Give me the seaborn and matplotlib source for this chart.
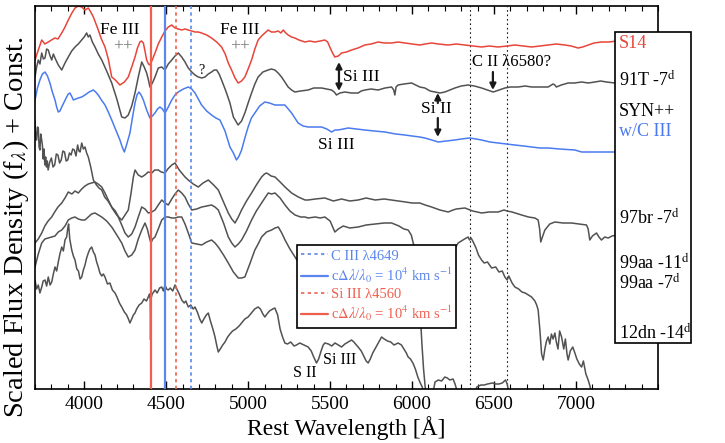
import matplotlib
matplotlib.use("Agg")
import numpy as np
import pandas as pd
import seaborn as sns
import matplotlib.pyplot as plt
from matplotlib.patches import Rectangle

# ---------------- data (rest wavelength [A], scaled flux + const) ----------------
s14_wave = [3700,3720,3741,3760,3781,3800,3822,3840,3863,3880,3903,3925,3944,3965,3985,4005,4025,4040,4056,4070,
            4086,4105,4127,4147,4168,4190,4218,4245,4269,4290,4310,4325,4340,4350,4361,4372,4381,4392,4401,4415,
            4432,4452,4473,4493,4513,4534,4554,4575,4595,4615,4635,4655,4676,4696,4716,4747,4777,4808,4838,4860,
            4879,4899,4920,4939,4960,4980,5000,5021,5041,5061,5082,5102,5122,5142,5163,5183,5200,5214,5230,5244,
            5265,5285,5310,5346,5375,5407,5440,5468,5485,5498,5515,5529,5550,5570,5600,5631,5670,5712,5750,5793,
            5830,5875,5915,5956,6000,6047,6080,6119,6160,6220,6270,6322,6370,6424,6470,6525,6580,6627,6680,6729,
            6780,6830,6880,6932,6970,7013,7040,7074,7110,7155,7200,7250]
s14_flux = [329,339,349,345,347,349,351,350,356,361,369,376,381,383,382,379,381,377,372,366,
            359,350,342,330,312,309,304,307,312,322,332,341,347,348,346,337,329,325,324,329,
            336,345,352,358,362,364,361,360,359,360,359,358,357,357,356,354,351,347,342,335,
            326,319,311,306,308,312,320,329,340,349,353,356,359,357,357,358,356,359,356,354,
            352,351,349,347,348,347,348,349,347,342,336,332,333,336,337,339,341,344,345,347,
            346,346,347,346,345,344,345,346,345,344,345,344,343,342,343,342,343,344,343,342,
            343,344,345,344,343,341,342,344,346,347,347,348]

t91_wave = [3700,3710,3720,3730,3741,3751,3761,3771,3781,3792,3802,3812,3822,3842,3863,3883,3903,3924,3944,3964,
            3985,4000,4015,4025,4035,4050,4066,4086,4107,4137,4168,4199,4229,4249,4269,4290,4310,4330,4351,4366,
            4381,4392,4401,4416,4432,4452,4473,4493,4513,4534,4554,4574,4595,4615,4635,4656,4676,4696,4717,4737,
            4757,4777,4793,4808,4823,4838,4864,4889,4910,4939,4960,4980,5000,5021,5041,5061,5090,5122,5142,5163,
            5183,5204,5224,5244,5265,5285,5320,5366,5400,5448,5480,5509,5525,5539,5560,5590,5630,5671,5690,5712,
            5750,5793,5835,5875,5888,5895,5902,5915,5950,5997,6047,6078,6110,6139,6170,6200,6230,6261,6300,6342,
            6380,6424,6460,6495,6530,6566,6600,6647,6690,6729,6780,6830,6860,6871,6880,6910,6952,6990,7034,7075,
            7115,7150,7186,7237,7250]
t91_flux = [312,322,329,325,336,330,331,340,339,333,329,335,331,324,319,326,332,338,342,345,
            349,352,356,352,354,347,342,335,329,318,306,290,272,271,274,283,296,312,327,322,
            316,309,302,306,312,321,322,319,325,329,333,336,332,327,321,317,314,312,311,312,
            315,317,319,319,315,309,298,286,272,264,268,276,286,296,305,312,317,319,320,319,
            316,312,307,302,299,297,298,299,301,301,300,299,297,294,296,297,296,296,298,299,
            300,299,301,302,299,294,302,304,305,306,302,301,298,297,296,297,299,301,303,304,
            303,301,299,297,299,301,302,302,303,302,302,302,305,304,302,304,306,306,307,306,
            307,308,307,306,306]

syn_wave = [3700,3715,3730,3745,3761,3776,3791,3806,3822,3832,3842,3852,3863,3878,3893,3903,3913,3923,3934,3949,
            3964,3985,4005,4030,4056,4070,4086,4105,4127,4147,4168,4193,4218,4232,4245,4260,4279,4295,4310,4322,
            4334,4347,4361,4381,4401,4416,4432,4447,4462,4477,4493,4513,4534,4554,4574,4605,4635,4656,4676,4696,
            4716,4747,4777,4803,4828,4859,4889,4910,4929,4945,4960,4980,5000,5020,5041,5070,5102,5130,5163,5190,
            5224,5245,5265,5285,5305,5335,5366,5410,5448,5480,5509,5530,5549,5580,5610,5660,5712,5770,5834,5900,
            5956,6000,6047,6078,6120,6159,6210,6261,6300,6352,6390,6424,6475,6525,6575,6627,6680,6729,6780,6830,
            6900,6993,7034,7080,7135,7190,7250]
syn_flux = [289,301,309,315,317,313,306,297,289,282,277,278,282,287,292,295,296,293,289,290,
            291,292,294,297,299,297,294,289,284,277,269,259,249,242,237,245,256,272,286,294,
            297,294,289,279,271,273,276,280,282,280,276,282,289,294,297,300,302,300,296,290,
            284,278,274,271,269,258,242,236,229,233,239,251,262,271,276,283,287,286,284,284,
            284,280,276,271,266,263,262,262,262,260,257,259,259,260,261,260,259,258,257,255,
            254,253,252,251,249,247,248,249,250,251,250,249,247,246,245,244,243,242,241,241,
            240,239,237,237,237,237,237]

br97_wave = [3700,3705,3710,3715,3720,3725,3730,3735,3740,3745,3750,3755,3760,3765,3770,3775,3780,3790,3800,3810,
             3820,3830,3840,3850,3860,3870,3880,3890,3900,3910,3920,3930,3940,3950,3960,3968,3975,3985,3995,4005,
             4015,4025,4040,4056,4075,4090,4107,4125,4145,4168,4190,4210,4229,4249,4269,4285,4300,4310,4330,4351,
             4370,4390,4412,4430,4452,4470,4493,4510,4534,4554,4565,4580,4595,4615,4635,4665,4696,4725,4757,4790,
             4818,4850,4879,4900,4920,4940,4960,4990,5021,5050,5082,5100,5112,5123,5140,5164,5195,5225,5265,5306,
             5347,5366,5410,5468,5520,5570,5620,5671,5720,5775,5830,5875,5920,5960,6000,6047,6080,6119,6170,6220,
             6250,6270,6322,6370,6424,6470,6525,6560,6580,6610,6668,6710,6749,6769,6778,6785,6795,6810,6840,6871,
             6920,6973,7020,7064,7074,7084,7100,7125,7140,7155,7175,7196,7220,7250]
br97_flux = [269,250,249,262,261,242,239,255,250,244,230,240,224,232,222,228,219,227,231,222,
             224,235,234,226,229,238,237,228,229,236,234,240,239,233,244,238,237,246,240,242,
             236,232,222,209,204,201,199,192,188,182,178,172,169,174,179,195,212,219,214,212,
             214,217,216,219,219,217,216,220,224,226,223,219,216,212,209,205,202,206,209,204,
             199,187,176,170,166,172,179,188,196,204,212,215,216,215,213,212,207,202,196,192,
             189,189,190,191,188,190,188,189,191,189,190,189,188,187,186,186,184,182,179,177,
             179,180,181,178,176,177,177,179,178,177,174,172,171,169,160,147,152,159,165,167,
             166,166,165,164,160,149,153,156,152,149,152,151,153,154]

aa11_wave = [3700,3720,3741,3760,3780,3802,3820,3840,3863,3883,3903,3925,3944,3964,3985,4005,4025,4045,4066,4085,
             4107,4127,4147,4170,4190,4208,4229,4249,4269,4290,4310,4330,4351,4371,4391,4412,4432,4452,4473,4493,
             4513,4534,4554,4574,4595,4615,4635,4656,4686,4717,4747,4777,4798,4818,4850,4879,4900,4920,4940,4960,
             4990,5021,5050,5082,5102,5123,5143,5164,5195,5225,5255,5286,5320,5347,5366,5410,5440,5468,5500,5529,
             5550,5580,5620,5671,5720,5775,5830,5875,5920,5950,5976,5995,6010,6025,6040,6050,6060,6070,6080,6095,
             6120,6140,6160,6180,6200,6215,6230,6250,6262,6280,6320]
aa11_flux = [146,150,156,163,168,172,177,182,186,191,197,195,198,196,200,203,205,206,207,205,
             202,196,189,181,176,172,164,156,152,155,162,172,182,180,176,177,179,184,189,186,
             184,190,195,199,196,192,185,179,180,182,183,184,182,179,166,152,146,142,145,149,
             158,169,178,186,191,196,195,196,191,184,178,174,172,172,171,172,171,172,168,157,
             160,163,161,162,164,165,166,166,163,160,159,154,144,128,100,75,45,20,2,-15,
             -10,7,9,8,12,11,9,10,5,-5,-20]

aa7_wave = [3700,3720,3741,3760,3780,3802,3822,3842,3863,3883,3903,3924,3944,3964,3985,4005,4025,4045,4066,4086,
            4107,4137,4168,4199,4229,4249,4269,4290,4310,4330,4351,4371,4385,4400,4407,4418,4432,4452,4473,4493,
            4513,4534,4554,4574,4595,4615,4635,4656,4686,4717,4747,4777,4798,4818,4850,4879,4910,4940,4960,4980,
            5010,5041,5061,5082,5112,5143,5164,5184,5205,5225,5255,5286,5305,5326,5360,5400,5500,5600,5700,5800,
            5900,6000,6100,6200,6251,6266,6281,6300,6320,6342,6350,6360,6373,6390,6405,6424,6440,6460,6485,6510,
            6530,6550,6566,6580,6590,6610,6627,6650,6670,6690,6710,6729,6749,6760,6769,6780,6790,6800,6810,6820,
            6830,6840,6850,6860,6871,6880,6890,6900,6912,6925,6935,6945,6952,6965,6980,6993,7005,7020,7034,7045,
            7060,7074,7085,7095,7120,7160]
aa7_flux = [122,135,146,150,151,152,153,157,159,163,169,171,172,170,169,169,172,175,176,174,
            172,168,162,154,146,138,132,134,139,150,159,166,160,150,146,150,152,160,169,172,
            172,171,171,172,172,165,156,146,145,144,147,149,146,142,134,126,117,111,111,112,
            125,139,145,152,157,159,161,162,156,149,140,132,127,126,124,124,126,127,130,131,
            133,134,136,138,139,142,146,148,150,152,149,151,147,141,134,129,126,127,121,122,
            117,118,112,109,113,106,102,100,97,96,94,92,88,84,79,58,35,29,40,48,
            52,45,55,50,56,47,40,58,52,40,50,35,29,38,42,36,30,25,22,28,
            15,9,3,-5,-15,-25]

dn12_wave = [3700,3710,3720,3730,3741,3750,3761,3771,3781,3792,3802,3812,3822,3832,3842,3852,3863,3873,3883,3893,
             3900,3905,3912,3924,3934,3944,3955,3965,3975,3985,3995,4005,4015,4025,4035,4046,4056,4066,4076,4086,
             4096,4107,4117,4127,4142,4157,4172,4188,4200,4215,4229,4245,4259,4270,4279,4290,4300,4310,4320,4335,
             4351,4365,4380,4391,4398,4403,4405,4407,4415,4432,4445,4460,4473,4483,4493,4503,4513,4525,4540,4554,
             4565,4580,4595,4610,4620,4635,4650,4665,4676,4690,4705,4717,4730,4745,4757,4770,4785,4798,4808,4818,
             4830,4845,4859,4875,4889,4905,4925,4945,4960,4980,5000,5020,5040,5061,5075,5090,5102,5115,5130,5150,
             5163,5180,5195,5210,5224,5240,5260,5280,5295,5315,5340,5366,5385,5400,5417,5430,5445,5458,5468,5490,
             5510,5530,5550,5570,5590,5610,5631,5645,5660,5671,5690,5705,5720,5732,5745,5760,5780,5800,5814,5830,
             5850,5870,5890,5915,5935,5950,5965,5976,5990,6005,6020,6035,6050,6062,6075,6100,6200,6330,6370,6395,
             6420,6440,6460,6490,6510,6530,6550,6570,6580,6590,6620]
dn12_flux = [109,100,104,96,102,108,109,103,112,104,107,115,122,118,127,135,142,138,149,152,
             161,165,150,139,133,129,120,118,110,112,119,124,131,136,140,142,137,134,127,122,
             116,113,115,112,105,106,99,96,92,86,82,77,74,70,66,70,74,76,80,84,
             86,90,88,92,95,90,49,90,95,99,96,101,102,98,104,100,99,101,98,104,
             100,95,89,86,88,82,84,80,82,77,70,66,70,74,76,68,60,52,44,37,
             40,44,47,52,55,58,60,63,66,70,72,76,80,82,80,75,72,75,78,80,
             81,74,60,52,46,45,47,43,44,46,44,42,38,32,26,30,38,44,46,45,
             43,46,44,42,45,47,49,47,44,42,38,33,28,26,30,36,42,48,52,50,
             48,47,44,46,44,40,36,32,30,26,20,12,6,2,-8,-20,-30,-25,-10,2,
             4,4,5,6,5,5,6,9,5,-3,-20]

series_names = ["S14", "91T -7$^{\\rm d}$", "SYN++", "97br -7$^{\\rm d}$", "99aa -11$^{\\rm d}$",
                "99aa -7$^{\\rm d}$", "12dn -14$^{\\rm d}$"]

# line markers
c3_rest = 4649.0
si3_rest = 4560.0
velocity_kms = 1.0e4
c_kms = 299792.458
si2_mark = 6355.0
c2_mark = 6580.0

xticks = [4000, 4500, 5000, 5500, 6000, 6500, 7000]

# ---------------- styling ----------------
sns.set_theme(style="ticks")
plt.rcParams['font.family'] = ['Liberation Serif', 'DejaVu Serif']
plt.rcParams['mathtext.fontset'] = 'stix'

RED = '#e8453a'
BLUE = '#4b7bef'
GRAY = '#525252'
VRED = '#ef5f50'
VBLUE = '#5b86ee'

fig = plt.figure(figsize=(7.25, 4.43), dpi=100)
ax = fig.add_axes([35/725, 54/443, 623/725, 383/443])

def draw(w, f, color, z=2):
    df = pd.DataFrame({"wave": w, "flux": f})
    sns.lineplot(data=df, x="wave", y="flux", ax=ax, color=color, lw=1.1,
                 sort=False, estimator=None, zorder=z)

draw(dn12_wave, dn12_flux, GRAY)
draw(aa7_wave, aa7_flux, GRAY)
draw(aa11_wave, aa11_flux, GRAY)
draw(br97_wave, br97_flux, GRAY)
draw(syn_wave, syn_flux, BLUE)
draw(t91_wave, t91_flux, GRAY)
draw(s14_wave, s14_flux, RED)

# vertical reference lines
fac = 1.0 - velocity_kms / c_kms
h1 = ax.axvline(c3_rest, color=VBLUE, ls=(0, (2, 2)), lw=1.2, zorder=3)
h2 = ax.axvline(c3_rest * fac, color=VBLUE, ls='-', lw=1.6, zorder=3)
h3 = ax.axvline(si3_rest, color=VRED, ls=(0, (2, 2)), lw=1.2, zorder=3)
h4 = ax.axvline(si3_rest * fac, color=VRED, ls='-', lw=1.6, zorder=3)
ax.axvline(si2_mark, color='k', ls=(0, (1.5, 2.5)), lw=0.8, zorder=1)
ax.axvline(c2_mark, color='k', ls=(0, (1.5, 2.5)), lw=0.8, zorder=1)

vel_lab = "c$\\Delta\\lambda$/$\\lambda_0$ = 10$^4$ km s$^{-1}$"
leg = ax.legend([h1, h2, h3, h4],
                ["C III \u03bb4649", vel_lab, "Si III \u03bb4560", vel_lab],
                loc='upper left', bbox_to_anchor=(0.4205, 0.376), borderaxespad=0,
                fontsize=10.5, labelcolor='linecolor', fancybox=False, framealpha=1,
                edgecolor='black', handlelength=1.8, handletextpad=0.2,
                labelspacing=0.2, borderpad=0.3)
leg.get_frame().set_linewidth(1.2)
leg.set_zorder(10)

ax.set_xlim(3700, 7500)
ax.set_ylim(0, 383)
ax.set_xticks(xticks)
ax.set_xticks(np.arange(3700, 7501, 100), minor=True)
ax.set_yticks([])
ax.tick_params(axis='x', which='both', direction='in', top=True, bottom=True,
               labelsize=14, colors='black', pad=5)
ax.tick_params(axis='x', which='major', length=6, width=1.0)
ax.tick_params(axis='x', which='minor', length=3.5, width=0.8)
for s in ax.spines.values():
    s.set_color('black')
    s.set_linewidth(1.2)

ax.set_xlabel("Rest Wavelength [\u00c5]", fontsize=17, labelpad=2, color='black')
ax.set_ylabel("Scaled Flux Density (f$_{\\lambda}$) + Const.", fontsize=20.5, color='black')
ax.yaxis.set_label_coords(-0.006, 0.423)

# annotations
ax.text(4218, 359, "Fe III", fontsize=12.5, ha='center', va='center', color='black')
ax.text(4237, 342, "++", fontsize=12.5, ha='center', va='center', color='#777777')
ax.text(4950, 359, "Fe III", fontsize=12.5, ha='center', va='center', color='black')
ax.text(4950, 342, "++", fontsize=12.5, ha='center', va='center', color='#777777')
ax.text(4712, 319, "?", fontsize=10, ha='center', va='center', color='black')
ax.annotate("", xy=(5554, 327), xytext=(5554, 298),
            arrowprops=dict(arrowstyle='<|-|>', color='k', lw=1.6, mutation_scale=9, shrinkA=0, shrinkB=0))
ax.text(5580, 312, "Si III", fontsize=12.5, ha='left', va='center', color='black')
ax.text(5535, 244, "Si III", fontsize=12.5, ha='center', va='center', color='black')
ax.text(6609, 327, "C II \u03bb6580?", fontsize=12, ha='center', va='center', color='black')
ax.annotate("", xy=(6493, 299), xytext=(6493, 317),
            arrowprops=dict(arrowstyle='-|>', color='k', lw=1.6, mutation_scale=9, shrinkA=0, shrinkB=0))
ax.text(6151, 280, "Si II", fontsize=12.5, ha='center', va='center', color='black')
ax.annotate("", xy=(6157, 296), xytext=(6157, 286),
            arrowprops=dict(arrowstyle='-|>', color='k', lw=1.6, mutation_scale=9, shrinkA=0, shrinkB=0))
ax.annotate("", xy=(6157, 252), xytext=(6157, 271),
            arrowprops=dict(arrowstyle='-|>', color='k', lw=1.6, mutation_scale=9, shrinkA=0, shrinkB=0))
ax.text(5346, 16, "S II", fontsize=11.5, ha='center', va='center', color='black')
ax.text(5560, 29, "Si III", fontsize=11.5, ha='center', va='center', color='black')

# name box on the right
box = Rectangle((615/725, 1 - 343/443), 76/725, 311/443, transform=fig.transFigure,
                facecolor='white', edgecolor='black', lw=1.2, zorder=5)
fig.patches.append(box)
name_y = [43, 80, 112, 132, 218, 263, 283, 333]
name_txt = ["S14", series_names[1], "SYN++", "w/C III", series_names[3], series_names[4],
            series_names[5], series_names[6]]
name_col = [RED, 'black', 'black', BLUE, 'black', 'black', 'black', 'black']
for yy, tt, cc in zip(name_y, name_txt, name_col):
    fig.text(619/725, 1 - yy/443, tt, fontsize=13, color=cc, ha='left', va='center', zorder=6)

fig.savefig("out.png", dpi=100)
